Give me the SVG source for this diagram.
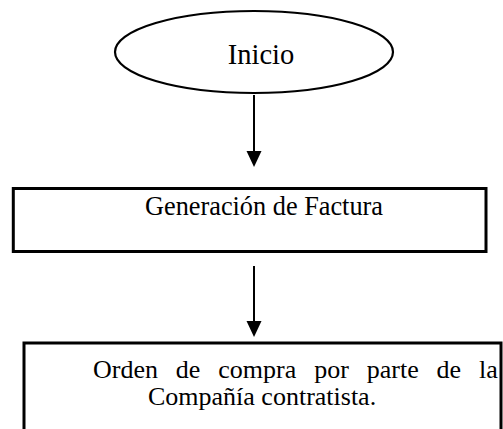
<svg xmlns="http://www.w3.org/2000/svg" width="503" height="429" viewBox="0 0 503 429">
<style>
.shape{fill:#fff;stroke:#000}
.t{font-family:"Liberation Serif","Times New Roman",serif;fill:#000}
.conn{stroke:#000;stroke-width:2;fill:none}
.head{fill:#000}
</style>
<rect width="503" height="429" fill="#fff"/>
<g id="inicio">
<ellipse class="shape" cx="254" cy="52" rx="139" ry="41" stroke-width="2.2"/>
<text class="t" x="261" y="64" font-size="28.5" text-anchor="middle">Inicio</text>
</g>
<g id="generacion">
<rect class="shape" x="13.3" y="188.5" width="472.7" height="63" stroke-width="3"/>
<text class="t" x="264" y="215" font-size="26.3" text-anchor="middle">Generación de Factura</text>
</g>
<g id="orden">
<rect class="shape" x="24" y="343" width="477" height="110" stroke-width="3"/>
<text class="t" x="93" y="378" font-size="26" word-spacing="11.4">Orden de compra por parte de la</text>
<text class="t" x="148" y="405" font-size="26">Compañía contratista.</text>
</g>
<g id="connectors">
<line class="conn" x1="254" y1="95" x2="254" y2="152"/>
<path class="head" d="M246.5,151 L261.5,151 L254,167 Z"/>
<line class="conn" x1="254" y1="266" x2="254" y2="322"/>
<path class="head" d="M246.5,321 L261.5,321 L254,337 Z"/>
</g>
</svg>
